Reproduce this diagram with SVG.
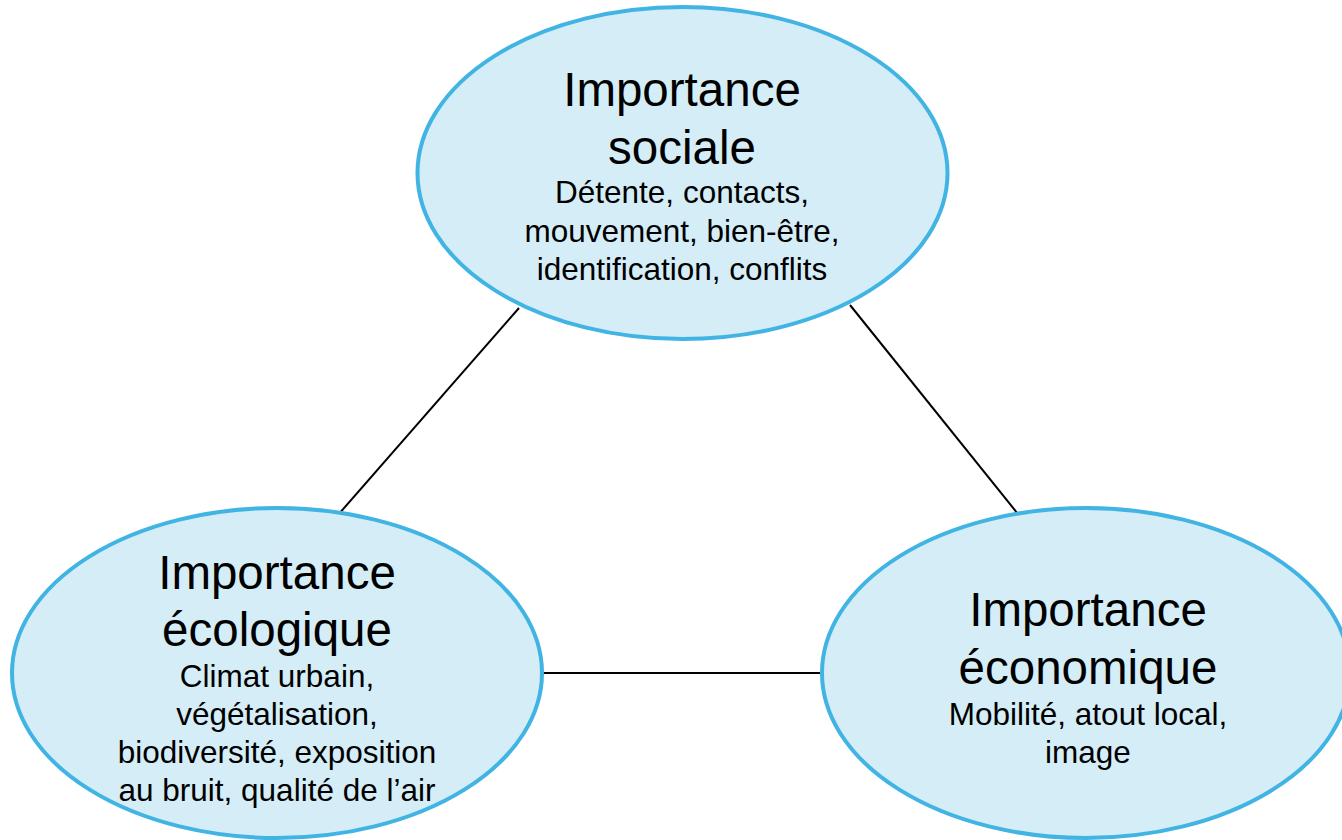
<svg xmlns="http://www.w3.org/2000/svg" width="1342" height="840" viewBox="0 0 1342 840">
<style>
.node{fill:#D4EDF7;stroke:#41B4E4;stroke-width:4}
.edge{stroke:#000;stroke-width:2;fill:none}
text{font-family:"Liberation Sans",Arial,sans-serif;fill:#000;text-anchor:middle}
.t{font-size:47.5px}
.s{font-size:31.5px}
</style>
<rect width="1342" height="840" fill="#fff"/>
<g id="connectors">
<line class="edge" x1="519" y1="308" x2="338" y2="515"/>
<line class="edge" x1="850" y1="305" x2="1018" y2="514"/>
<line class="edge" x1="543" y1="673" x2="822" y2="673"/>
</g>
<g id="social">
<ellipse class="node" cx="682.5" cy="173" rx="265" ry="166"/>
<text class="t" x="682" y="106">Importance</text>
<text class="t" x="682" y="164">sociale</text>
<text class="s" x="682" y="203">Détente, contacts,</text>
<text class="s" x="682" y="242">mouvement, bien-être,</text>
<text class="s" x="682" y="280">identification, conflits</text>
</g>
<g id="ecologique">
<ellipse class="node" cx="277" cy="673" rx="265" ry="165"/>
<text class="t" x="277" y="589">Importance</text>
<text class="t" x="277" y="646">écologique</text>
<text class="s" x="277" y="687">Climat urbain,</text>
<text class="s" x="277" y="725">végétalisation,</text>
<text class="s" x="277" y="763">biodiversité, exposition</text>
<text class="s" x="277" y="801">au bruit, qualité de l’air</text>
</g>
<g id="economique">
<ellipse class="node" cx="1086" cy="673" rx="264" ry="165"/>
<text class="t" x="1088" y="626">Importance</text>
<text class="t" x="1088" y="684">économique</text>
<text class="s" x="1088" y="725">Mobilité, atout local,</text>
<text class="s" x="1088" y="763">image</text>
</g>
</svg>
